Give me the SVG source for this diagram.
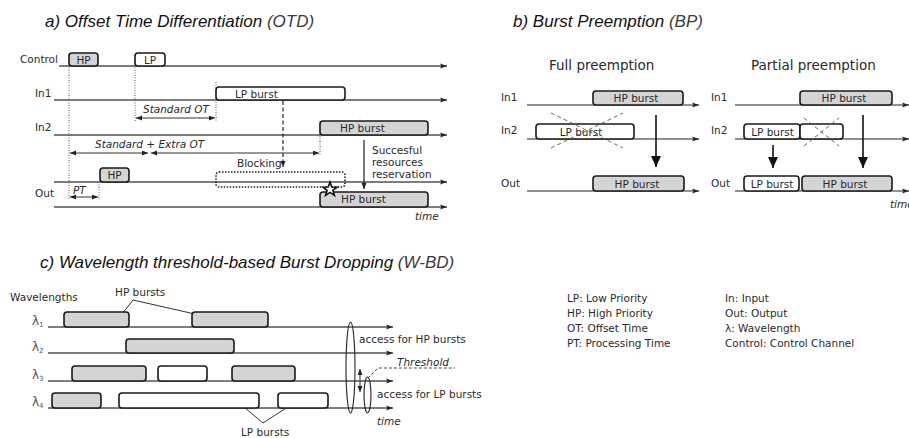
<svg xmlns="http://www.w3.org/2000/svg" width="909" height="438" viewBox="0 0 909 438">
<defs>
<style>
.title{font-family:"Liberation Sans",Arial,sans-serif;font-style:italic;font-size:17px;fill:#111}
.t{font-family:"DejaVu Sans",Verdana,sans-serif;font-size:10.5px;fill:#2a2a2a}
.ti{font-family:"DejaVu Sans",Verdana,sans-serif;font-size:10.5px;fill:#2a2a2a;font-style:italic}
.sub{font-family:"DejaVu Sans",Verdana,sans-serif;font-size:13.5px;fill:#2a2a2a}
.lam{font-family:"DejaVu Sans",Verdana,sans-serif;font-size:12px;fill:#555}
.ax{stroke:#505050;stroke-width:1.4;fill:none}
.axb{stroke:#222;stroke-width:1.2;fill:none}
.hp{fill:#d4d4d4;stroke:#1a1a1a;stroke-width:1.6}
.lp{fill:#fff;stroke:#1a1a1a;stroke-width:1.6}
.dot{stroke:#555;stroke-width:1;stroke-dasharray:1 1.5;fill:none}
.dim{stroke:#333;stroke-width:1;fill:none}
.x{stroke:#555;stroke-width:0.9;stroke-dasharray:4 3;fill:none}
</style>
<marker id="ah" markerUnits="userSpaceOnUse" markerWidth="8" markerHeight="6" refX="7" refY="3" orient="auto"><path d="M0,0.5 L7,3 L0,5.5 L1.5,3 z" fill="#222"/></marker>
<marker id="dh" markerUnits="userSpaceOnUse" markerWidth="7" markerHeight="6" refX="6" refY="2.5" orient="auto-start-reverse"><path d="M0,0 L6,2.5 L0,5 z" fill="#222"/></marker>
<marker id="bh" markerUnits="userSpaceOnUse" markerWidth="10" markerHeight="12" refX="5" refY="11" orient="0"><path d="M0,0 L10,0 L5,11 z" fill="#111"/></marker>
</defs>

<!-- Titles -->
<text class="title" x="45" y="27">a) Offset Time Differentiation <tspan fill="#3c3c3c">(OTD)</tspan></text>
<text class="title" x="513" y="27">b) Burst Preemption <tspan fill="#3c3c3c">(BP)</tspan></text>
<text class="title" x="40" y="268">c) Wavelength threshold-based Burst Dropping <tspan fill="#3c3c3c">(W-BD)</tspan></text>

<!-- ===== Panel a ===== -->
<g id="panel-a-connectors">
<line class="ax" x1="59" y1="66" x2="447" y2="66" marker-end="url(#ah)"/>
<line class="ax" x1="54" y1="100" x2="447" y2="100" marker-end="url(#ah)"/>
<line class="ax" x1="54" y1="135" x2="447" y2="135" marker-end="url(#ah)"/>
<line class="ax" x1="54" y1="182" x2="447" y2="182" marker-end="url(#ah)"/>
<line class="ax" x1="54" y1="207" x2="447" y2="207" marker-end="url(#ah)"/>
<line class="dot" x1="69" y1="55" x2="69" y2="200"/>
<line class="dot" x1="135" y1="55" x2="135" y2="121"/>
<line class="dot" x1="216" y1="82" x2="216" y2="121"/>
<line class="dot" x1="320" y1="121" x2="320" y2="156"/>
<line class="dot" x1="99" y1="182" x2="99" y2="200"/>
<line class="dim" x1="136" y1="118" x2="215" y2="118" marker-start="url(#dh)" marker-end="url(#dh)"/>
<line class="dim" x1="70" y1="153" x2="148" y2="153" marker-start="url(#dh)" marker-end="url(#dh)"/>
<line class="dim" x1="151" y1="153" x2="319" y2="153" marker-start="url(#dh)" marker-end="url(#dh)"/>
<line class="dim" x1="70" y1="197" x2="98" y2="197" marker-start="url(#dh)" marker-end="url(#dh)"/>
<line x1="283" y1="101" x2="283" y2="167" stroke="#222" stroke-width="1.2" stroke-dasharray="4 2.5" marker-end="url(#dh)"/>
<line x1="364" y1="140" x2="364" y2="189" stroke="#222" stroke-width="1.2" marker-end="url(#dh)"/>
</g>
<g id="a-labels">
<text class="t" x="20" y="63">Control</text>
<text class="t" x="35" y="97">In1</text>
<text class="t" x="35" y="131">In2</text>
<text class="t" x="35" y="197">Out</text>
<text class="ti" x="143" y="113">Standard OT</text>
<text class="ti" x="95" y="148">Standard + Extra OT</text>
<text class="ti" x="73" y="194">PT</text>
<text class="t" x="237" y="167">Blocking</text>
<text class="t" x="372" y="154">Succesful</text>
<text class="t" x="372" y="166">resources</text>
<text class="t" x="372" y="178">reservation</text>
<text class="ti" x="415" y="220">time</text>
</g>
<g id="a-ctrl-hp"><rect class="hp" x="69" y="53" width="29" height="13" rx="3"/><text class="t" x="83.5" y="63.5" text-anchor="middle">HP</text></g>
<g id="a-ctrl-lp"><rect class="lp" x="135" y="53" width="30" height="13" rx="3"/><text class="t" x="150" y="63.5" text-anchor="middle">LP</text></g>
<g id="a-in1-lp"><rect class="lp" x="216" y="87" width="129" height="13" rx="3"/><text class="t" x="235" y="97.5">LP burst</text></g>
<g id="a-in2-hp"><rect class="hp" x="320" y="121" width="108" height="14" rx="3"/><text class="t" x="340" y="132">HP burst</text></g>
<g id="a-out-hp-small"><rect class="hp" x="100" y="168" width="29" height="14" rx="3"/><text class="t" x="114.5" y="179" text-anchor="middle">HP</text></g>
<g id="a-blocking"><rect x="216" y="172" width="129" height="15" rx="3" fill="none" stroke="#222" stroke-width="1.6" stroke-dasharray="1.5 1.5"/></g>
<g id="a-out-hp"><rect class="hp" x="320" y="192" width="108" height="15" rx="3"/><text class="t" x="341" y="203">HP burst</text></g>
<g id="a-star"><polygon points="330,182 331.8,187 337,187.2 332.9,190.3 334.4,195.4 330,192.4 325.6,195.4 327.1,190.3 323,187.2 328.2,187" fill="#fff" stroke="#111" stroke-width="1.6"/></g>

<!-- ===== Panel b ===== -->
<text class="sub" x="549" y="70">Full preemption</text>
<text class="sub" x="751" y="70">Partial preemption</text>
<g id="panel-b-connectors">
<line class="axb" x1="527" y1="105" x2="699" y2="105" marker-end="url(#ah)"/>
<line class="axb" x1="527" y1="139" x2="699" y2="139" marker-end="url(#ah)"/>
<line class="axb" x1="527" y1="191" x2="699" y2="191" marker-end="url(#ah)"/>
<line class="axb" x1="735" y1="105" x2="909" y2="105" marker-end="url(#ah)"/>
<line class="axb" x1="735" y1="139" x2="909" y2="139" marker-end="url(#ah)"/>
<line class="axb" x1="735" y1="191" x2="909" y2="191" marker-end="url(#ah)"/>
<line x1="656" y1="115" x2="656" y2="167" stroke="#111" stroke-width="1.6" marker-end="url(#bh)"/>
<line x1="773" y1="145" x2="773" y2="168" stroke="#111" stroke-width="1.6" marker-end="url(#bh)"/>
<line x1="863" y1="115" x2="863" y2="168" stroke="#111" stroke-width="1.6" marker-end="url(#bh)"/>
</g>
<g id="b-labels">
<text class="t" x="501" y="101">In1</text>
<text class="t" x="501" y="134">In2</text>
<text class="t" x="501" y="187">Out</text>
<text class="t" x="711" y="101">In1</text>
<text class="t" x="711" y="134">In2</text>
<text class="t" x="711" y="187">Out</text>
<text class="ti" x="890" y="208">time</text>
</g>
<g id="b-full-in1-hp"><rect class="hp" x="593" y="91" width="90" height="14" rx="3"/><text class="t" x="636" y="102" text-anchor="middle">HP burst</text></g>
<g id="b-full-in2-lp"><rect class="lp" x="536" y="124" width="98" height="15" rx="3"/><text class="t" x="581" y="135.5" text-anchor="middle">LP burst</text>
<line class="x" x1="551" y1="113" x2="623" y2="148"/><line class="x" x1="551" y1="148" x2="623" y2="113"/></g>
<g id="b-full-out-hp"><rect class="hp" x="593" y="176" width="91" height="15" rx="3"/><text class="t" x="637" y="187.5" text-anchor="middle">HP burst</text></g>
<g id="b-part-in1-hp"><rect class="hp" x="800" y="91" width="92" height="14" rx="3"/><text class="t" x="844" y="102" text-anchor="middle">HP burst</text></g>
<g id="b-part-in2-lp"><rect class="lp" x="744" y="124" width="56" height="15" rx="3"/><text class="t" x="772.5" y="135.5" text-anchor="middle">LP burst</text></g>
<g id="b-part-in2-lp-drop"><rect class="lp" x="800" y="124" width="43" height="15" rx="3"/>
<line class="x" x1="804" y1="118" x2="839" y2="146"/><line class="x" x1="804" y1="146" x2="839" y2="118"/></g>
<g id="b-part-out-lp"><rect class="lp" x="744" y="176" width="55" height="15" rx="3"/><text class="t" x="772" y="187.5" text-anchor="middle">LP burst</text></g>
<g id="b-part-out-hp"><rect class="hp" x="802" y="176" width="90" height="15" rx="3"/><text class="t" x="845" y="187.5" text-anchor="middle">HP burst</text></g>

<!-- ===== Panel c ===== -->
<g id="panel-c-connectors">
<line class="ax" x1="48" y1="327" x2="393" y2="327" marker-end="url(#ah)"/>
<line class="ax" x1="48" y1="353" x2="393" y2="353" marker-end="url(#ah)"/>
<line class="ax" x1="48" y1="381" x2="393" y2="381" marker-end="url(#ah)"/>
<line class="ax" x1="48" y1="408" x2="393" y2="408" marker-end="url(#ah)"/>
<line class="dim" x1="133" y1="300" x2="118" y2="319" marker-end="url(#dh)"/>
<line class="dim" x1="133" y1="300" x2="217" y2="319" marker-end="url(#dh)"/>
<line class="dim" x1="263" y1="423" x2="238" y2="402" marker-end="url(#dh)"/>
<line class="dim" x1="263" y1="423" x2="297" y2="401" marker-end="url(#dh)"/>
<line class="dim" x1="360" y1="369" x2="360" y2="392" marker-start="url(#dh)" marker-end="url(#dh)"/>
<polyline points="368,378 378,368 455,368" fill="none" stroke="#444" stroke-width="1" stroke-dasharray="3 2"/>
</g>
<g id="c-ellipses">
<ellipse cx="350.5" cy="367.5" rx="4.5" ry="45.5" fill="none" stroke="#222" stroke-width="1.1"/>
<ellipse cx="367.5" cy="395" rx="3.5" ry="18" fill="none" stroke="#222" stroke-width="1.1"/>
</g>
<g id="c-labels">
<text class="t" x="10" y="301" font-size="10px">Wavelengths</text>
<text class="t" x="115" y="296">HP bursts</text>
<text class="t" x="241" y="436">LP bursts</text>
<text class="lam" x="32" y="325">λ<tspan font-size="7px" dy="2">1</tspan></text>
<text class="lam" x="32" y="351">λ<tspan font-size="7px" dy="2">2</tspan></text>
<text class="lam" x="32" y="379">λ<tspan font-size="7px" dy="2">3</tspan></text>
<text class="lam" x="32" y="406">λ<tspan font-size="7px" dy="2">4</tspan></text>
<text class="t" x="359" y="343">access for HP bursts</text>
<text class="ti" x="397" y="366">Threshold</text>
<text class="t" x="377" y="398">access for LP bursts</text>
<text class="ti" x="377" y="425">time</text>
</g>
<g id="c-l1-hp1"><rect class="hp" x="64" y="312" width="65" height="15" rx="3"/></g>
<g id="c-l1-hp2"><rect class="hp" x="192" y="312" width="76" height="15" rx="3"/></g>
<g id="c-l2-hp"><rect class="hp" x="126" y="339" width="108" height="14" rx="3"/></g>
<g id="c-l3-hp1"><rect class="hp" x="72" y="366" width="74" height="15" rx="3"/></g>
<g id="c-l3-lp"><rect class="lp" x="158" y="366" width="49" height="15" rx="3"/></g>
<g id="c-l3-hp2"><rect class="hp" x="232" y="366" width="63" height="15" rx="3"/></g>
<g id="c-l4-hp"><rect class="hp" x="52" y="393" width="49" height="15" rx="3"/></g>
<g id="c-l4-lp1"><rect class="lp" x="119" y="393" width="140" height="15" rx="3"/></g>
<g id="c-l4-lp2"><rect class="lp" x="278" y="393" width="50" height="15" rx="3"/></g>

<!-- ===== Legend ===== -->
<g id="legend">
<text class="t" x="567" y="302">LP: Low Priority</text>
<text class="t" x="567" y="317">HP: High Priority</text>
<text class="t" x="567" y="332">OT: Offset Time</text>
<text class="t" x="567" y="347">PT: Processing Time</text>
<text class="t" x="725" y="302">In: Input</text>
<text class="t" x="725" y="317">Out: Output</text>
<text class="t" x="725" y="332">λ: Wavelength</text>
<text class="t" x="725" y="347">Control: Control Channel</text>
</g>
</svg>
